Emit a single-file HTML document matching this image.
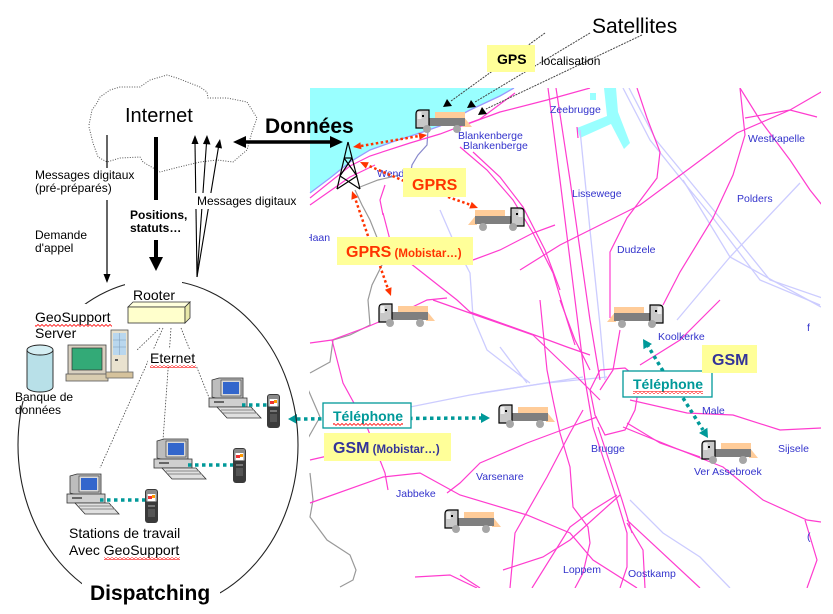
<!DOCTYPE html>
<html><head><meta charset="utf-8">
<style>
html,body{margin:0;padding:0;background:#fff;width:833px;height:614px;overflow:hidden;}
svg{display:block;}
text{font-family:"Liberation Sans",Arial,sans-serif;}
</style></head><body>
<svg width="833" height="614" viewBox="0 0 833 614" xmlns="http://www.w3.org/2000/svg">
<defs>
<pattern id="sq" width="4" height="3" patternUnits="userSpaceOnUse"><polyline points="0,2.5 2,0.5 4,2.5" fill="none" stroke="#f00" stroke-width="0.8"/></pattern>
<clipPath id="mapclip"><rect x="309" y="88" width="512" height="500"/></clipPath>
</defs>
<rect width="833" height="614" fill="#fff"/>

<!-- ================= MAP ================= -->
<g clip-path="url(#mapclip)">
 <polygon points="310,88 514,88 500,96 470,110 440,126 420,133 395,141 370,150 350,162 330,178 310,193" fill="#99ffff"/>
 <polyline points="310,193 330,178 350,162 370,150 395,141 420,133 440,126 470,110 500,96 514,88" fill="none" stroke="#9999ff" stroke-width="1.3"/>
 <polygon points="604,88 616,88 618,112 630,143 624,149 611,124 580,138 577,128 607,116" fill="#99ffff"/>
 <rect x="590" y="93" width="6" height="7" fill="#99ffff"/>

 <!-- lavender roads -->
 <g fill="none" stroke="#ccccff" stroke-width="1.3">
  <polyline points="623,88 650,140 690,190 713,218 760,280 820,305"/>
  <polyline points="629,88 656,140 720,218 770,280 828,300"/>
  <polyline points="580,130 590,230 600,325 605,380"/>
  <polyline points="683,180 730,257 821,307"/>
  <polyline points="800,183 730,257 677,320"/>
  <polyline points="410,407 470,395 533,385 583,377"/>
  <polyline points="480,393 547,383 607,377"/>
  <polyline points="500,347 527,383"/>
  <polyline points="440,210 453,240 470,273 473,317 487,350 530,383"/>
  <polyline points="630,500 663,533 700,557 730,588"/>
 </g>
 <!-- gray borders -->
 <g fill="none" stroke="#999" stroke-width="1.2">
  <polyline points="355,190 362,205 370,220 378,240 382,265 372,285 368,300 370,325 350,335 333,340 330,362 310,373"/>
  <polyline points="307,387 320,417 307,440"/>
  <polyline points="310,473 313,500 310,517 327,540 350,555 356,570 353,580 340,587"/>
  <polyline points="360,187 378,180 400,175"/>
 </g>
 <polyline points="428,130 427,145 418,155 412,165 410,176" fill="none" stroke="#8888cc" stroke-width="1.2"/>
 <!-- magenta roads -->
 <g fill="none" stroke="#ff3ccf" stroke-width="1.2">
  <polyline points="310,198 350,166 370,156 410,143 440,134 480,119 515,93"/>
  <polyline points="310,205 330,191 350,177 375,165"/>
  <polyline points="462,126 500,112 547,100 590,88"/>
  <polyline points="460,147 487,170 513,200 533,233 553,273 567,320 575,345"/>
  <polyline points="473,152 500,177 523,207 545,250 560,290"/>
  <polyline points="548,88 560,180 575,300 585,380 593,427"/>
  <polyline points="556,88 570,180 590,320 600,380"/>
  <polyline points="540,300 547,370 553,400"/>
  <polyline points="520,270 560,245 600,225 640,205 690,168 737,133 790,110 828,88"/>
  <polyline points="663,305 680,272 713,218 733,175 745,135 740,88"/>
  <polyline points="610,318 610,252 627,218 657,178 660,152 647,118 637,88"/>
  <polyline points="740,88 760,120 790,160 810,190 822,205"/>
  <polyline points="745,118 790,110 817,117"/>
  <polyline points="310,343 332,340 367,327 400,313 427,300 447,298"/>
  <polyline points="332,340 343,383 367,427 385,473 388,490"/>
  <polyline points="310,460 345,452 377,447"/>
  <polyline points="310,503 383,477 420,473 460,495 527,515 570,533 593,560 637,588"/>
  <polyline points="447,493 460,483 480,463 527,443 570,427 597,417"/>
  <polyline points="510,588 515,533 547,477 570,433 583,410"/>
  <polyline points="532,588 570,527 593,510 617,495"/>
  <polyline points="503,570 543,557 570,540 620,495"/>
  <polyline points="553,400 560,433 570,467 573,507 588,527 590,543 583,573 575,588"/>
  <polyline points="593,427 617,500 627,533 627,567 620,588"/>
  <polyline points="598,427 622,500 632,533"/>
  <polyline points="627,523 643,550 645,588"/>
  <polyline points="627,520 700,588"/>
  <polyline points="627,423 660,443 700,457"/>
  <polyline points="460,575 480,588"/>
  <polyline points="415,577 450,575 477,588"/>
  <polyline points="383,213 390,240"/>
  <polyline points="410,263 457,300 470,312 540,337 567,347 590,355"/>
  <polyline points="473,260 500,250 533,233 555,225"/>
  <polyline points="433,300 467,312 533,335 577,377 600,400"/>
  <polyline points="630,400 687,413 733,415 780,430 821,428"/>
  <polyline points="623,427 680,450 723,467 763,500 807,520 821,522"/>
  <polyline points="805,520 817,560 807,588"/>
  <polyline points="620,330 613,370 600,390"/>
  <polyline points="600,370 625,368 640,380 635,410 625,430 605,435 595,415 590,390 600,370"/>
  <polyline points="560,300 575,340 590,370"/>
  <polyline points="720,300 680,340 640,365"/>
  <polyline points="385,185 380,200 383,215"/>
  <polyline points="577,127 578,138"/>
 </g>
 <!-- map labels -->
 <g fill="#3333cc" font-size="10.5">
  <text x="550" y="113">Zeebrugge</text>
  <text x="458" y="139">Blankenberge</text>
  <text x="463" y="149">Blankenberge</text>
  <text x="748" y="142">Westkapelle</text>
  <text x="572" y="197">Lissewege</text>
  <text x="737" y="202">Polders</text>
  <text x="617" y="253">Dudzele</text>
  <text x="305" y="241">Haan</text>
  <text x="377" y="177">Wenduine</text>
  <text x="658" y="340">Koolkerke</text>
  <text x="702" y="414">Male</text>
  <text x="778" y="452">Sijsele</text>
  <text x="591" y="452">Brugge</text>
  <text x="694" y="475">Ver Assebroek</text>
  <text x="476" y="480">Varsenare</text>
  <text x="396" y="497">Jabbeke</text>
  <text x="563" y="573">Loppem</text>
  <text x="628" y="577">Oostkamp</text>
  <text x="807" y="331">f</text>
  <text x="807" y="540">(</text>
 </g>
</g>

<!-- tower -->
<g stroke="#000" stroke-width="1.2" fill="none">
 <line x1="348" y1="142" x2="337" y2="189"/>
 <line x1="348" y1="142" x2="360" y2="189"/>
 <line x1="344" y1="158" x2="352" y2="158"/>
 <line x1="344" y1="158" x2="357" y2="176"/>
 <line x1="352" y1="158" x2="340" y2="176"/>
 <line x1="340" y1="176" x2="360" y2="189"/>
 <line x1="357" y1="176" x2="337" y2="189"/>
</g>

<!-- trucks: left-facing -->
<g transform="translate(415,110)">
 <rect x="20" y="2" width="30" height="7" fill="#ffcc99"/><polygon points="48,6 57,17 48,17" fill="#ffcc99"/>
 <rect x="14" y="8" width="36" height="8" fill="#7f7f7f"/>
 <path d="M1,4 Q1,0 5,0 L14,0 L14,18 L1,18 Z" fill="#c8c8c8" stroke="#000" stroke-width="1.2"/>
 <rect x="2.5" y="2" width="4" height="7" fill="#eee"/><rect x="7" y="5" width="2" height="2" fill="#000"/>
 <circle cx="12" cy="19" r="4" fill="#a6a6a6"/><circle cx="42" cy="19" r="4" fill="#a6a6a6"/>
</g>
<g transform="translate(378,304)">
 <rect x="20" y="2" width="30" height="7" fill="#ffcc99"/><polygon points="48,6 57,17 48,17" fill="#ffcc99"/>
 <rect x="14" y="8" width="36" height="8" fill="#7f7f7f"/>
 <path d="M1,4 Q1,0 5,0 L14,0 L14,18 L1,18 Z" fill="#c8c8c8" stroke="#000" stroke-width="1.2"/>
 <rect x="2.5" y="2" width="4" height="7" fill="#eee"/><rect x="7" y="5" width="2" height="2" fill="#000"/>
 <circle cx="12" cy="19" r="4" fill="#a6a6a6"/><circle cx="42" cy="19" r="4" fill="#a6a6a6"/>
</g>
<g transform="translate(498,405)">
 <rect x="20" y="2" width="30" height="7" fill="#ffcc99"/><polygon points="48,6 57,17 48,17" fill="#ffcc99"/>
 <rect x="14" y="8" width="36" height="8" fill="#7f7f7f"/>
 <path d="M1,4 Q1,0 5,0 L14,0 L14,18 L1,18 Z" fill="#c8c8c8" stroke="#000" stroke-width="1.2"/>
 <rect x="2.5" y="2" width="4" height="7" fill="#eee"/><rect x="7" y="5" width="2" height="2" fill="#000"/>
 <circle cx="12" cy="19" r="4" fill="#a6a6a6"/><circle cx="42" cy="19" r="4" fill="#a6a6a6"/>
</g>
<g transform="translate(701,441)">
 <rect x="20" y="2" width="30" height="7" fill="#ffcc99"/><polygon points="48,6 57,17 48,17" fill="#ffcc99"/>
 <rect x="14" y="8" width="36" height="8" fill="#7f7f7f"/>
 <path d="M1,4 Q1,0 5,0 L14,0 L14,18 L1,18 Z" fill="#c8c8c8" stroke="#000" stroke-width="1.2"/>
 <rect x="2.5" y="2" width="4" height="7" fill="#eee"/><rect x="7" y="5" width="2" height="2" fill="#000"/>
 <circle cx="12" cy="19" r="4" fill="#a6a6a6"/><circle cx="42" cy="19" r="4" fill="#a6a6a6"/>
</g>
<g transform="translate(444,510)">
 <rect x="20" y="2" width="30" height="7" fill="#ffcc99"/><polygon points="48,6 57,17 48,17" fill="#ffcc99"/>
 <rect x="14" y="8" width="36" height="8" fill="#7f7f7f"/>
 <path d="M1,4 Q1,0 5,0 L14,0 L14,18 L1,18 Z" fill="#c8c8c8" stroke="#000" stroke-width="1.2"/>
 <rect x="2.5" y="2" width="4" height="7" fill="#eee"/><rect x="7" y="5" width="2" height="2" fill="#000"/>
 <circle cx="12" cy="19" r="4" fill="#a6a6a6"/><circle cx="42" cy="19" r="4" fill="#a6a6a6"/>
</g>
<!-- trucks: right-facing -->
<g transform="translate(525,208) scale(-1,1)">
 <rect x="20" y="2" width="30" height="7" fill="#ffcc99"/><polygon points="48,6 57,17 48,17" fill="#ffcc99"/>
 <rect x="14" y="8" width="36" height="8" fill="#7f7f7f"/>
 <path d="M1,4 Q1,0 5,0 L14,0 L14,18 L1,18 Z" fill="#c8c8c8" stroke="#000" stroke-width="1.2"/>
 <rect x="2.5" y="2" width="4" height="7" fill="#eee"/><rect x="7" y="5" width="2" height="2" fill="#000"/>
 <circle cx="12" cy="19" r="4" fill="#a6a6a6"/><circle cx="42" cy="19" r="4" fill="#a6a6a6"/>
</g>
<g transform="translate(664,305) scale(-1,1)">
 <rect x="20" y="2" width="30" height="7" fill="#ffcc99"/><polygon points="48,6 57,17 48,17" fill="#ffcc99"/>
 <rect x="14" y="8" width="36" height="8" fill="#7f7f7f"/>
 <path d="M1,4 Q1,0 5,0 L14,0 L14,18 L1,18 Z" fill="#c8c8c8" stroke="#000" stroke-width="1.2"/>
 <rect x="2.5" y="2" width="4" height="7" fill="#eee"/><rect x="7" y="5" width="2" height="2" fill="#000"/>
 <circle cx="12" cy="19" r="4" fill="#a6a6a6"/><circle cx="42" cy="19" r="4" fill="#a6a6a6"/>
</g>

<!-- satellites -->
<text x="592" y="33" font-size="21" fill="#000">Satellites</text>
<g stroke="#444" stroke-width="1" stroke-dasharray="2 1" fill="none">
 <line x1="545" y1="33" x2="451" y2="101"/>
 <line x1="590" y1="33" x2="475" y2="102"/>
 <line x1="642" y1="35" x2="486" y2="109"/>
</g>
<g fill="#000">
 <polygon points="447,99 443,107 452,106"/>
 <polygon points="471,100 467,108 476,107"/>
 <polygon points="482,107 478,115 487,114"/>
</g>
<rect x="487" y="45" width="48" height="27" fill="#ffff99"/>
<text x="497" y="64" font-size="14" font-weight="bold" fill="#000">GPS</text>
<text x="541" y="65" font-size="12" fill="#000">localisation</text>

<!-- red dotted GPRS arrows -->
<g stroke="#ff3300" stroke-width="2.5" stroke-dasharray="2.5 2.5" fill="none">
 <line x1="361" y1="146" x2="419" y2="136"/>
 <line x1="404" y1="181" x2="367" y2="165"/>
 <line x1="448" y1="197" x2="471" y2="205"/>
 <line x1="368" y1="236" x2="355" y2="198"/>
 <line x1="380" y1="266" x2="388" y2="289"/>
</g>
<g fill="#ff3300">
 <polygon points="427,135 419.7,139.7 418.5,132.8"/>
 <polygon points="353,147 361.5,149.2 360.3,142.3"/>
 <polygon points="360,162 368.8,162.2 365.8,168.6"/>
 <polygon points="478,208 469.3,208.5 471.7,201.9"/>
 <polygon points="352,191 358,197.3 351.4,199.7"/>
 <polygon points="391,296 384.9,289.7 391.5,287.3"/>
</g>
<rect x="403" y="168" width="63" height="29" fill="#ffff99"/>
<text x="412" y="190" font-size="16" font-weight="bold" fill="#ff3300">GPRS</text>
<rect x="337" y="237" width="136" height="28" fill="#ffff99"/>
<text x="346" y="257" fill="#ff3300" font-weight="bold"><tspan font-size="16">GPRS</tspan><tspan font-size="11.5"> (Mobistar…)</tspan></text>

<!-- teal arrows -->
<g stroke="#009999" stroke-width="3.5" stroke-dasharray="3.5 3.5" fill="none">
 <line x1="297" y1="419" x2="481" y2="418"/>
 <line x1="663" y1="371" x2="648" y2="346"/>
 <line x1="683" y1="398" x2="703" y2="430"/>
</g>
<g fill="#009999">
 <polygon points="288,419 297,414 297,424"/>
 <polygon points="490,418 481,413 481,423"/>
 <polygon points="643,339 652,344 643.5,349.3"/>
 <polygon points="708,438 699,433 707.4,427.7"/>
</g>
<rect x="323" y="403" width="88" height="25" fill="#fff" stroke="#009999" stroke-width="1.3"/>
<text x="333" y="421" font-size="14" font-weight="bold" fill="#009999">Téléphone</text>
<rect x="333" y="423" width="70" height="3" fill="url(#sq)"/>
<rect x="324" y="433" width="127" height="28" fill="#ffff99"/>
<text x="333" y="453" fill="#333399" font-weight="bold"><tspan font-size="16">GSM</tspan><tspan font-size="11.5"> (Mobistar…)</tspan></text>
<rect x="623" y="371" width="89" height="26" fill="#fff" stroke="#009999" stroke-width="1.3"/>
<text x="633" y="389" font-size="14" font-weight="bold" fill="#009999">Téléphone</text>
<rect x="633" y="391" width="70" height="3" fill="url(#sq)"/>
<rect x="702" y="345" width="55" height="28" fill="#ffff99"/>
<text x="712" y="365" font-size="16" font-weight="bold" fill="#333399">GSM</text>

<!-- ================= LEFT SIDE ================= -->
<!-- cloud -->
<polyline points="89,125 92,110 97,103 100,97 110,90 120,87 140,87 150,80 167,75 177,78 200,87 207,92 208,98 227,98 247,102 257,118 252,132 247,150 233,162 217,160 200,162 175,168 160,172 143,162 140,157 120,158 107,162 98,157 93,143 89,127" fill="none" stroke="#555" stroke-width="1" stroke-dasharray="1 1.5" stroke-linejoin="round"/>
<text x="125" y="122" font-size="20" fill="#000">Internet</text>

<!-- Données arrow -->
<line x1="244" y1="142" x2="332" y2="142" stroke="#000" stroke-width="3.5"/>
<polygon points="233,142 246,136 246,148" fill="#000"/>
<polygon points="343,142 330,136 330,148" fill="#000"/>
<text x="265" y="133" font-size="21" font-weight="bold" fill="#000">Données</text>

<!-- thin arrow down -->
<line x1="107" y1="135" x2="107" y2="168" stroke="#000" stroke-width="1.2"/>
<line x1="107" y1="200" x2="107" y2="275" stroke="#000" stroke-width="1.2"/>
<polygon points="107,283 103.5,274 110.5,274" fill="#000"/>
<g font-size="12" fill="#000">
 <text x="35" y="179">Messages digitaux</text>
 <text x="35" y="192">(pré-préparés)</text>
 <text x="35" y="239">Demande</text>
 <text x="35" y="252">d'appel</text>
</g>
<!-- thick arrow down -->
<line x1="156" y1="137" x2="156" y2="200" stroke="#000" stroke-width="4"/>
<line x1="156" y1="240" x2="156" y2="259" stroke="#000" stroke-width="4"/>
<polygon points="156,271 149,257 163,257" fill="#000"/>
<g font-size="12" font-weight="bold" fill="#000">
 <text x="130" y="219">Positions,</text>
 <text x="130" y="232">statuts…</text>
</g>
<!-- three up arrows -->
<g stroke="#000" stroke-width="1.1">
 <line x1="197" y1="277" x2="195" y2="143"/>
 <line x1="197" y1="277" x2="206.5" y2="143"/>
 <line x1="197" y1="277" x2="218.5" y2="147"/>
</g>
<g fill="#000">
 <polygon points="195,135 191.5,144 198.5,144"/>
 <polygon points="207,135 203,144 210.5,144.5"/>
 <polygon points="220,139 222,148.5 215,147.3"/>
</g>
<rect x="194" y="193" width="106" height="16" fill="#fff"/>
<text x="197" y="205" font-size="12" fill="#000">Messages digitaux</text>

<!-- dispatching ellipse -->
<ellipse cx="158" cy="445" rx="140" ry="165" fill="none" stroke="#222" stroke-width="1.1"/>
<rect x="125" y="274" width="57" height="26" fill="#fff"/>
<rect x="4" y="304" width="82" height="97" fill="#fff"/>
<rect x="82" y="579" width="138" height="35" fill="#fff"/>

<text x="133" y="300" font-size="14" fill="#000">Rooter</text>
<!-- router box -->
<polygon points="128,307 133,302 190,302 185,307" fill="#ffffdd" stroke="#333" stroke-width="0.8"/>
<rect x="128" y="307" width="57" height="16" fill="#ffffcc" stroke="#333" stroke-width="0.8"/>
<polygon points="185,307 190,302 190,318 185,323" fill="#e8e8a8" stroke="#333" stroke-width="0.8"/>

<!-- ethernet dotted links -->
<g stroke="#444" stroke-width="0.8" stroke-dasharray="1.5 1.5" fill="none">
 <line x1="160" y1="328" x2="137" y2="350"/>
 <line x1="163" y1="328" x2="100" y2="468"/>
 <line x1="171" y1="328" x2="163" y2="440"/>
 <line x1="181" y1="328" x2="210" y2="400"/>
</g>
<rect x="148" y="349" width="50" height="17" fill="#fff"/>
<text x="150" y="363" font-size="14" fill="#000">Eternet</text>
<rect x="150" y="365" width="46" height="3" fill="url(#sq)"/>

<text x="35" y="322" font-size="14" fill="#000">GeoSupport</text>
<rect x="35" y="324" width="77" height="3" fill="url(#sq)"/>
<text x="35" y="338" font-size="14" fill="#000">Server</text>

<!-- database -->
<path d="M27,350 L27,387 A13,5 0 0 0 53,387 L53,350" fill="#b8e0e8" stroke="#222" stroke-width="0.9"/>
<ellipse cx="40" cy="350" rx="13" ry="5" fill="#d4eef3" stroke="#222" stroke-width="0.9"/>
<text x="15" y="401" font-size="12" fill="#000">Banque de</text>
<text x="15" y="414" font-size="12" fill="#000">données</text>

<!-- server -->
<rect x="68" y="345" width="38" height="30" fill="#d8d0c0" stroke="#444" stroke-width="0.8"/>
<rect x="72" y="348" width="30" height="22" fill="#33aa77" stroke="#333" stroke-width="0.7"/>
<rect x="66" y="374" width="42" height="7" fill="#d8ccb0" stroke="#555" stroke-width="0.8"/>
<rect x="111" y="330" width="17" height="43" fill="#e9e2cf" stroke="#555" stroke-width="0.8"/>
<rect x="113" y="333" width="13" height="22" fill="#b9d7ee"/>
<g stroke="#7a9ab8" stroke-width="0.5"><line x1="119.5" y1="333" x2="119.5" y2="355"/><line x1="113" y1="340" x2="126" y2="340"/><line x1="113" y1="347" x2="126" y2="347"/></g>
<rect x="115" y="359" width="3" height="2" fill="#555"/>
<rect x="106" y="372" width="27" height="6" fill="#d5c29c" stroke="#666" stroke-width="0.8"/>

<!-- workstations -->
<g transform="translate(209,378)">
 <polygon points="3,2 10,0 34,0 34,21 10,21 3,19" fill="#bdbdbd" stroke="#333" stroke-width="0.8"/>
 <rect x="12" y="2" width="20" height="16" fill="#d9d9d9" stroke="#333" stroke-width="0.6"/>
 <rect x="14" y="4" width="16" height="12" fill="#3366cc"/>
 <rect x="0" y="20" width="38" height="9" fill="#cfcfcf" stroke="#333" stroke-width="0.8"/>
 <rect x="5" y="23" width="10" height="2" fill="#666"/>
 <polygon points="8,29 42,29 52,40 18,40" fill="#e0e0e0" stroke="#333" stroke-width="0.8"/>
 <line x1="12" y1="32" x2="45" y2="32" stroke="#888"/><line x1="14" y1="35" x2="48" y2="35" stroke="#888"/>
</g>
<g transform="translate(154,439)">
 <polygon points="3,2 10,0 34,0 34,21 10,21 3,19" fill="#bdbdbd" stroke="#333" stroke-width="0.8"/>
 <rect x="12" y="2" width="20" height="16" fill="#d9d9d9" stroke="#333" stroke-width="0.6"/>
 <rect x="14" y="4" width="16" height="12" fill="#3366cc"/>
 <rect x="0" y="20" width="38" height="9" fill="#cfcfcf" stroke="#333" stroke-width="0.8"/>
 <rect x="5" y="23" width="10" height="2" fill="#666"/>
 <polygon points="8,29 42,29 52,40 18,40" fill="#e0e0e0" stroke="#333" stroke-width="0.8"/>
 <line x1="12" y1="32" x2="45" y2="32" stroke="#888"/><line x1="14" y1="35" x2="48" y2="35" stroke="#888"/>
</g>
<g transform="translate(67,474)">
 <polygon points="3,2 10,0 34,0 34,21 10,21 3,19" fill="#bdbdbd" stroke="#333" stroke-width="0.8"/>
 <rect x="12" y="2" width="20" height="16" fill="#d9d9d9" stroke="#333" stroke-width="0.6"/>
 <rect x="14" y="4" width="16" height="12" fill="#3366cc"/>
 <rect x="0" y="20" width="38" height="9" fill="#cfcfcf" stroke="#333" stroke-width="0.8"/>
 <rect x="5" y="23" width="10" height="2" fill="#666"/>
 <polygon points="8,29 42,29 52,40 18,40" fill="#e0e0e0" stroke="#333" stroke-width="0.8"/>
 <line x1="12" y1="32" x2="45" y2="32" stroke="#888"/><line x1="14" y1="35" x2="48" y2="35" stroke="#888"/>
</g>
<g stroke="#009999" stroke-width="3.5" stroke-dasharray="3.5 3.5" fill="none">
 <line x1="242" y1="405" x2="268" y2="405"/>
 <line x1="188" y1="465" x2="234" y2="465"/>
 <line x1="100" y1="500" x2="146" y2="500"/>
</g>

<!-- phones -->
<g transform="translate(267,394)">
 <rect x="0" y="0" width="13" height="34" rx="3" fill="#3a3a3a"/>
 <rect x="1" y="1" width="11" height="12" rx="2" fill="#8a8a8a"/>
 <rect x="2.5" y="5" width="8" height="7" fill="#fff"/>
 <rect x="3" y="7" width="4" height="3" fill="#e33"/><rect x="7" y="6" width="3" height="3" fill="#f90"/>
 <rect x="3" y="16" width="7" height="2" fill="#777"/><rect x="3" y="20" width="7" height="8" fill="#555"/>
</g>
<g transform="translate(233,448)">
 <rect x="0" y="0" width="13" height="35" rx="3" fill="#3a3a3a"/>
 <rect x="1" y="1" width="11" height="12" rx="2" fill="#8a8a8a"/>
 <rect x="2.5" y="5" width="8" height="7" fill="#fff"/>
 <rect x="3" y="7" width="4" height="3" fill="#e33"/><rect x="7" y="6" width="3" height="3" fill="#f90"/>
 <rect x="3" y="16" width="7" height="2" fill="#777"/><rect x="3" y="20" width="7" height="8" fill="#555"/>
</g>
<g transform="translate(145,489)">
 <rect x="0" y="0" width="13" height="34" rx="3" fill="#3a3a3a"/>
 <rect x="1" y="1" width="11" height="12" rx="2" fill="#8a8a8a"/>
 <rect x="2.5" y="5" width="8" height="7" fill="#fff"/>
 <rect x="3" y="7" width="4" height="3" fill="#e33"/><rect x="7" y="6" width="3" height="3" fill="#f90"/>
 <rect x="3" y="16" width="7" height="2" fill="#777"/><rect x="3" y="20" width="7" height="8" fill="#555"/>
</g>

<text x="69" y="538" font-size="14" fill="#000">Stations de travail</text>
<text x="69" y="555" font-size="14" fill="#000">Avec GeoSupport</text>
<rect x="104" y="557" width="76" height="3" fill="url(#sq)"/>
<text x="90" y="600" font-size="21" font-weight="bold" fill="#000">Dispatching</text>
</svg>
</body></html>
